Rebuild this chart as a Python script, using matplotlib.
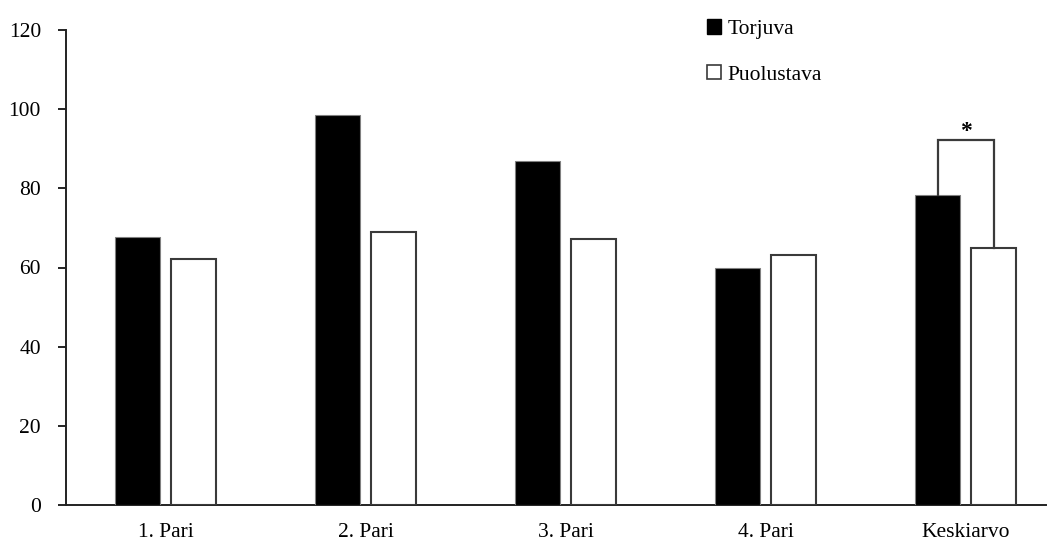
import matplotlib
matplotlib.use("Agg")
import matplotlib.pyplot as plt
from matplotlib.patches import Rectangle
import numpy as np

categories = ["1. Pari", "2. Pari", "3. Pari", "4. Pari", "Keskiarvo"]
torjuva = [67.8, 98.6, 86.8, 59.9, 78.3]
puolustava = [62.2, 69.0, 67.2, 63.1, 64.9]
series_names = ["Torjuva", "Puolustava"]
yticks = [0, 20, 40, 60, 80, 100, 120]
bracket_top = 92.2

plt.rcParams['font.family'] = ['Liberation Serif', 'DejaVu Serif']

fig = plt.figure(figsize=(10.52, 5.43), dpi=100)
W, H = 1052, 543
ax = fig.add_axes([66 / W, (H - 505) / H, (1046 - 66) / W, (505 - 30) / H])

x = np.arange(len(categories))
bw = 0.225
off = 0.14
ax.bar(x - off, torjuva, width=bw, color="black", edgecolor="#808080", linewidth=0.8, zorder=3)
ax.bar(x + off, puolustava, width=bw, color="white", edgecolor="#3a3a3a", linewidth=1.5, zorder=3)

ax.set_xlim(-0.4975, 4.4025)
ax.set_ylim(0, 120)
ax.set_yticks(yticks)
ax.set_xticks(x)
ax.set_xticklabels(categories, fontsize=15.5)
ax.tick_params(axis='x', length=0, pad=13)
ax.tick_params(axis='y', direction='out', length=6, width=1.2, pad=12, labelsize=15.5)
for s in ["top", "right"]:
    ax.spines[s].set_visible(False)
for s in ["left", "bottom"]:
    ax.spines[s].set_linewidth(1.4)
    ax.spines[s].set_color("#222222")

# significance bracket on Keskiarvo
i = len(categories) - 1
ax.plot([i - off, i - off, i + off, i + off],
        [torjuva[i], bracket_top, bracket_top, puolustava[i]],
        color="#3a3a3a", linewidth=1.6, zorder=4, solid_joinstyle='miter')
ax.text(i, bracket_top - 0.6, "*", ha="center", va="bottom", fontsize=17, fontweight='bold')

handles = [Rectangle((0, 0), 1, 1, facecolor="black", edgecolor="black"),
           Rectangle((0, 0), 1, 1, facecolor="white", edgecolor="#3a3a3a", linewidth=1.2)]
fig.legend(handles, series_names, loc="upper left", bbox_to_anchor=(688 / W, 1 - 0 / H),
           frameon=False, fontsize=15.5, handlelength=0.65, handleheight=0.65,
           handletextpad=0.3, labelspacing=1.2)

fig.savefig("out.png", dpi=100)
